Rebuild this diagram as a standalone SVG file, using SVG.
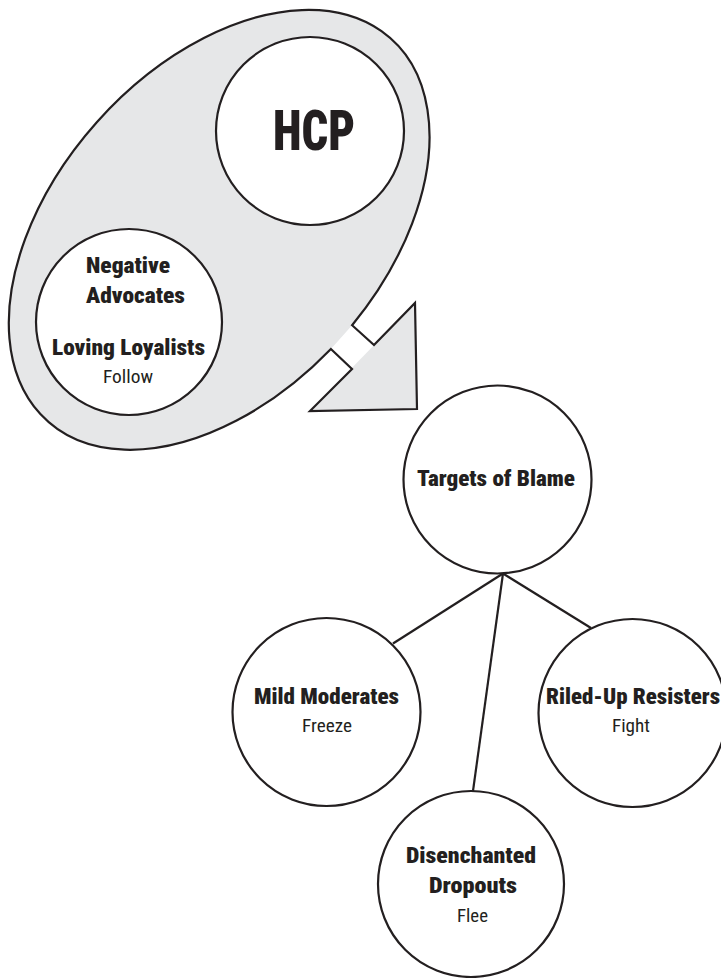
<svg xmlns="http://www.w3.org/2000/svg" width="721" height="978" viewBox="0 0 721 978">
<style>
.ol{fill:none;stroke:#231f20;stroke-width:2.2;stroke-linejoin:miter}
.nd{fill:#ffffff;stroke:#231f20;stroke-width:2.2}
.gr{fill:#e6e7e8;stroke:none}
.b{font-family:"Roboto Condensed","Liberation Sans Narrow",Roboto,sans-serif;font-weight:900;font-size:21.5px;fill:#231f20}
.r{font-family:"Roboto Condensed","Liberation Sans Narrow",Roboto,sans-serif;font-weight:400;font-size:18px;fill:#231f20}
.h{font-family:"Roboto Condensed","Liberation Sans Narrow",Roboto,sans-serif;font-weight:900;font-size:56px;fill:#231f20}
.c{fill:none;stroke:#231f20;stroke-width:2.2}
</style>
<rect width="721" height="978" fill="#ffffff"/>
<g id="group-ellipse">
<path class="gr" d="M330.9,349 A257,163 -48 1 1 352.1,325.2 Z"/>
<polygon class="gr" points="415,303 417,409 310,411"/>
<path class="ol" d="M330.9,349 A257,163 -48 1 1 352.1,325.2 L374,345 L415,303 L417,409 L310,411 L352,369 Z"/>
</g>
<g id="connectors">
<line class="c" x1="503" y1="573.5" x2="393" y2="643.5"/>
<line class="c" x1="503" y1="573.5" x2="591" y2="628"/>
<line class="c" x1="503" y1="573.5" x2="473" y2="791"/>
</g>
<g id="node-hcp">
<circle class="nd" cx="310" cy="131" r="94"/>
<text class="h" x="314" y="150" text-anchor="middle" textLength="82" lengthAdjust="spacingAndGlyphs">HCP</text>
</g>
<g id="node-loyalists">
<circle class="nd" cx="129" cy="322" r="93"/>
<text class="b" x="86" y="273" textLength="84" lengthAdjust="spacingAndGlyphs">Negative</text>
<text class="b" x="86" y="303" textLength="99" lengthAdjust="spacingAndGlyphs">Advocates</text>
<text class="b" x="128.5" y="355" text-anchor="middle" textLength="153" lengthAdjust="spacingAndGlyphs">Loving Loyalists</text>
<text class="r" x="128" y="383" text-anchor="middle" textLength="50" lengthAdjust="spacingAndGlyphs">Follow</text>
</g>
<g id="node-targets">
<circle class="nd" cx="497.5" cy="479.5" r="94"/>
<text class="b" x="496" y="486" text-anchor="middle" textLength="158" lengthAdjust="spacingAndGlyphs">Targets of Blame</text>
</g>
<g id="node-mild">
<circle class="nd" cx="326.5" cy="712" r="94"/>
<text class="b" x="326.5" y="704" text-anchor="middle" textLength="145" lengthAdjust="spacingAndGlyphs">Mild Moderates</text>
<text class="r" x="327" y="732" text-anchor="middle" textLength="50" lengthAdjust="spacingAndGlyphs">Freeze</text>
</g>
<g id="node-riled">
<circle class="nd" cx="632.5" cy="713" r="94"/>
<text class="b" x="633" y="704" text-anchor="middle" textLength="174" lengthAdjust="spacingAndGlyphs">Riled-Up Resisters</text>
<text class="r" x="631" y="732" text-anchor="middle" textLength="38" lengthAdjust="spacingAndGlyphs">Fight</text>
</g>
<g id="node-dropouts">
<circle class="nd" cx="471" cy="884" r="93"/>
<text class="b" x="471" y="863" text-anchor="middle" textLength="130" lengthAdjust="spacingAndGlyphs">Disenchanted</text>
<text class="b" x="473" y="893" text-anchor="middle" textLength="88" lengthAdjust="spacingAndGlyphs">Dropouts</text>
<text class="r" x="472.5" y="922" text-anchor="middle" textLength="31" lengthAdjust="spacingAndGlyphs">Flee</text>
</g>
</svg>
